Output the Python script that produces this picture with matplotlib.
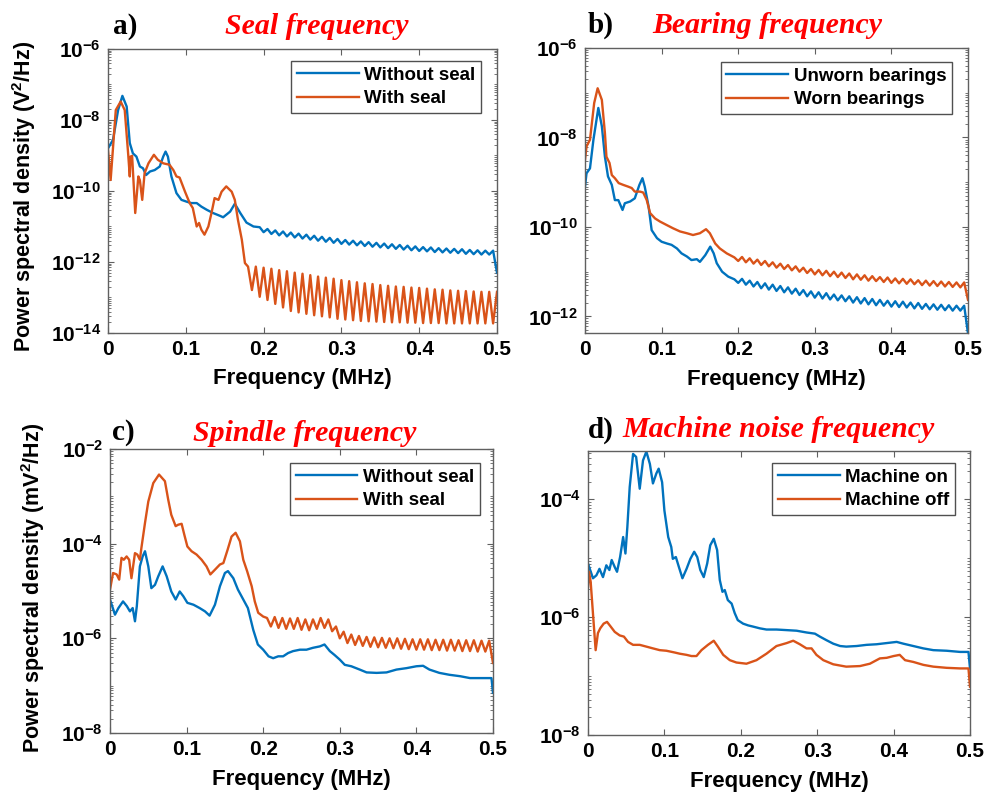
import numpy as np
import matplotlib
matplotlib.use('Agg')
import matplotlib.pyplot as plt
from matplotlib.ticker import FixedLocator, LogLocator, NullFormatter, FuncFormatter

plt.rcParams['font.family'] = 'Liberation Sans'
plt.rcParams['font.weight'] = 'bold'
plt.rcParams['mathtext.fontset'] = 'custom'
plt.rcParams['mathtext.rm'] = 'Liberation Sans:bold'
plt.rcParams['mathtext.it'] = 'Liberation Sans:bold'
plt.rcParams['mathtext.bf'] = 'Liberation Sans:bold'
plt.rcParams['mathtext.default'] = 'rm'

BLUE = '#0072BD'
ORANGE = '#D95319'

# x in MHz, PSD values stored as log10
xticks = [0, 0.1, 0.2, 0.3, 0.4, 0.5]
xtick_labels = ['0', '0.1', '0.2', '0.3', '0.4', '0.5']

# ---- a) seal frequency ----
a_blue_x = [0, 0.0064, 0.013, 0.0185, 0.024, 0.028, 0.032, 0.0365, 0.041, 0.045, 0.049,
            0.054, 0.060, 0.0665, 0.071, 0.074, 0.077, 0.0815, 0.088, 0.0944, 0.101, 0.107,
            0.114, 0.120, 0.127, 0.135, 0.144, 0.148, 0.157, 0.163, 0.170, 0.178, 0.187]
a_blue_y = [-8.80, -8.56, -7.72, -7.32, -7.62, -8.65, -8.94, -9.03, -9.31, -9.36, -9.55,
            -9.45, -9.41, -9.31, -9.03, -8.89, -9.03, -9.59, -10.06, -10.25, -10.30, -10.34,
            -10.34, -10.44, -10.53, -10.62, -10.70, -10.74, -10.58, -10.36, -10.62, -10.89, -11.0]
a_blue_peaks = [-11.02, -11.07, -11.11, -11.14, -11.17, -11.20, -11.23, -11.26, -11.29, -11.32,
                -11.35, -11.38, -11.40, -11.42, -11.44, -11.46, -11.48, -11.50, -11.52, -11.54,
                -11.56, -11.58, -11.59, -11.61, -11.62, -11.63, -11.64, -11.66, -11.67, -11.68,
                -11.68]
a_blue_troughs = [-11.16, -11.21, -11.25, -11.28, -11.31, -11.34, -11.37, -11.40, -11.43, -11.46,
                  -11.49, -11.51, -11.53, -11.55, -11.57, -11.59, -11.61, -11.63, -11.65, -11.67,
                  -11.69, -11.70, -11.72, -11.73, -11.74, -11.75, -11.77, -11.78, -11.79, -11.79]
a_blue_end = -12.3

a_orange_x = [0, 0.0034, 0.01, 0.0163, 0.0215, 0.026, 0.028, 0.029, 0.031, 0.035, 0.039, 0.041,
              0.044, 0.047, 0.052, 0.059, 0.064, 0.071, 0.079, 0.084, 0.088, 0.092, 0.099, 0.105,
              0.109, 0.114, 0.117, 0.120, 0.124, 0.129, 0.133, 0.137, 0.142, 0.146, 0.152, 0.159,
              0.163, 0.167, 0.172, 0.176, 0.180]
a_orange_y = [-8.84, -9.69, -7.72, -7.48, -7.72, -8.98, -9.59, -9.03, -9.01, -10.62, -9.59, -9.70,
              -10.25, -9.50, -9.22, -8.98, -9.12, -9.22, -9.26, -9.41, -9.59, -9.62, -10.02, -10.34,
              -10.48, -11.0, -10.9, -11.09, -11.23, -11.0, -10.62, -10.20, -10.25, -10.02, -9.87, -10.02,
              -10.25, -10.81, -11.37, -12.03, -12.13]
a_orange_troughs = [-12.79, -12.98, -13.07, -13.18, -13.28, -13.38, -13.42, -13.46, -13.50, -13.53,
                    -13.56, -13.60, -13.62, -13.64, -13.66, -13.67, -13.68, -13.69, -13.70, -13.70,
                    -13.71, -13.71, -13.72, -13.72, -13.72, -13.73, -13.73, -13.73, -13.73, -13.73,
                    -13.73, -13.73]
a_orange_peaks = [-12.13, -12.16, -12.19, -12.23, -12.26, -12.30, -12.33, -12.37, -12.41, -12.44,
                  -12.47, -12.51, -12.54, -12.57, -12.60, -12.62, -12.65, -12.67, -12.69, -12.70,
                  -12.72, -12.73, -12.75, -12.77, -12.78, -12.80, -12.81, -12.82, -12.83, -12.84,
                  -12.84]
a_orange_end = -12.84

# ---- b) bearing frequency ----
b_blue_x = [0, 0.002, 0.0065, 0.011, 0.0174, 0.022, 0.026, 0.030, 0.035, 0.039, 0.0435, 0.049,
            0.052, 0.059, 0.065, 0.071, 0.075, 0.078, 0.083, 0.087, 0.094, 0.100, 0.107, 0.113,
            0.120, 0.126, 0.133, 0.139, 0.146, 0.150, 0.157, 0.1635, 0.168, 0.172, 0.179, 0.187, 0.195]
b_blue_y = [-9.10, -8.80, -8.69, -8.05, -7.34, -7.75, -8.43, -8.87, -9.06, -9.40, -9.40, -9.62,
            -9.47, -9.43, -9.36, -9.06, -8.91, -9.10, -9.54, -10.07, -10.25, -10.33, -10.37, -10.40,
            -10.48, -10.59, -10.66, -10.74, -10.72, -10.78, -10.63, -10.44, -10.59, -10.81, -11.0, -11.11, -11.17]
b_blue_troughs = [-11.25, -11.29, -11.33, -11.37, -11.40, -11.43, -11.46, -11.49, -11.52, -11.55,
                  -11.58, -11.60, -11.62, -11.64, -11.66, -11.69, -11.71, -11.73, -11.75, -11.76,
                  -11.78, -11.79, -11.80, -11.82, -11.83, -11.84, -11.85, -11.86, -11.87, -11.87]
b_blue_peaks = [-11.16, -11.20, -11.23, -11.26, -11.29, -11.32, -11.35, -11.38, -11.41, -11.44,
                -11.46, -11.48, -11.51, -11.53, -11.55, -11.57, -11.59, -11.61, -11.63, -11.65,
                -11.66, -11.67, -11.69, -11.70, -11.72, -11.73, -11.74, -11.75, -11.76, -11.76]
b_blue_end = -12.38

b_orange_x = [0, 0.002, 0.0065, 0.012, 0.0165, 0.022, 0.026, 0.028, 0.032, 0.035, 0.039, 0.044,
              0.050, 0.0566, 0.061, 0.065, 0.0719, 0.076, 0.0806, 0.085, 0.0915, 0.098, 0.107,
              0.115, 0.124, 0.133, 0.141, 0.150, 0.158, 0.163, 0.170, 0.176, 0.185, 0.195]
b_orange_y = [-8.5, -8.20, -8.05, -7.23, -6.90, -7.16, -7.90, -8.43, -8.57, -8.84, -8.91, -9.02,
              -9.06, -9.10, -9.13, -9.21, -9.21, -9.23, -9.40, -9.69, -9.81, -9.88, -9.96,
              -10.03, -10.10, -10.14, -10.18, -10.14, -10.05, -10.14, -10.37, -10.48, -10.59, -10.68]
b_orange_troughs = [-10.76, -10.79, -10.82, -10.85, -10.88, -10.91, -10.94, -10.97, -11.00, -11.03,
                    -11.06, -11.08, -11.10, -11.12, -11.14, -11.17, -11.18, -11.20, -11.21, -11.23,
                    -11.25, -11.26, -11.27, -11.28, -11.30, -11.31, -11.32, -11.33, -11.34, -11.35]
b_orange_peaks = [-10.67, -10.70, -10.73, -10.76, -10.79, -10.82, -10.85, -10.88, -10.91, -10.94,
                  -10.96, -10.98, -11.00, -11.02, -11.04, -11.06, -11.08, -11.10, -11.12, -11.13,
                  -11.15, -11.16, -11.17, -11.19, -11.20, -11.21, -11.22, -11.23, -11.24, -11.24]
b_orange_end = -11.63

# ---- c) spindle frequency ----
c_blue_x = [0, 0.0065, 0.011, 0.017, 0.022, 0.026, 0.0296, 0.0326, 0.035, 0.039, 0.0426, 0.0457,
            0.05, 0.054, 0.0587, 0.063, 0.0687, 0.074, 0.080, 0.0857, 0.091, 0.0957, 0.101, 0.109,
            0.117, 0.124, 0.130, 0.137, 0.1435, 0.150, 0.154, 0.161, 0.167, 0.174, 0.180, 0.187,
            0.193, 0.2, 0.207, 0.213, 0.2196, 0.226, 0.2326, 0.239, 0.248, 0.2565, 0.265, 0.274,
            0.280, 0.287, 0.293, 0.300, 0.3065, 0.315, 0.326, 0.335, 0.348, 0.361, 0.374, 0.387,
            0.400, 0.4087, 0.417, 0.430, 0.443, 0.457, 0.470, 0.498, 0.5]
c_blue_y = [-5.18, -5.50, -5.36, -5.22, -5.32, -5.43, -5.36, -5.64, -5.32, -4.48, -4.27, -4.16,
            -4.48, -4.94, -4.87, -4.69, -4.48, -4.69, -5.01, -5.18, -5.01, -5.11, -5.25, -5.29,
            -5.36, -5.43, -5.52, -5.29, -4.90, -4.62, -4.58, -4.73, -4.97, -5.18, -5.36, -5.82,
            -6.13, -6.24, -6.38, -6.42, -6.38, -6.38, -6.31, -6.27, -6.24, -6.24, -6.20, -6.17,
            -6.13, -6.27, -6.35, -6.45, -6.56, -6.59, -6.66, -6.72, -6.73, -6.72, -6.66, -6.63,
            -6.59, -6.58, -6.66, -6.73, -6.77, -6.80, -6.84, -6.84, -7.15]

c_orange_x = [0, 0.004, 0.0087, 0.012, 0.015, 0.018, 0.0217, 0.025, 0.028, 0.0326, 0.0357, 0.039,
              0.041, 0.0457, 0.050, 0.0565, 0.064, 0.0717, 0.076, 0.080, 0.0857, 0.089, 0.0935,
              0.097, 0.101, 0.1065, 0.113, 0.1196, 0.126, 0.131, 0.137, 0.1435, 0.148, 0.1535,
              0.1587, 0.164, 0.1696, 0.174, 0.179, 0.185, 0.189, 0.1935, 0.2, 0.205]
c_orange_y = [-4.97, -4.62, -4.65, -4.76, -4.30, -4.34, -4.27, -4.34, -4.73, -4.20, -4.23, -4.34,
              -4.09, -3.56, -3.11, -2.72, -2.54, -2.68, -3.07, -3.39, -3.63, -3.60, -3.58,
              -3.81, -4.06, -4.16, -4.23, -4.34, -4.48, -4.65, -4.55, -4.44, -4.41, -4.13,
              -3.85, -3.77, -3.95, -4.34, -4.58, -4.90, -5.22, -5.46, -5.54, -5.57]
c_orange_troughs = [-5.75, -5.78, -5.80, -5.80, -5.82, -5.83, -5.80, -5.78, -5.85, -6.00,
                    -6.10, -6.14, -6.16, -6.18, -6.19, -6.20, -6.21, -6.22, -6.23, -6.24,
                    -6.24, -6.25, -6.25, -6.26, -6.26, -6.27, -6.27, -6.28, -6.28]
c_orange_peaks = [-5.55, -5.57, -5.58, -5.57, -5.60, -5.60, -5.57, -5.60, -5.75, -5.86,
                  -5.92, -5.95, -5.97, -5.98, -5.99, -6.00, -6.00, -6.01, -6.02, -6.02,
                  -6.02, -6.03, -6.03, -6.03, -6.04, -6.04, -6.04, -6.05, -6.05]
c_orange_end = -6.52

# ---- d) machine noise frequency ----
d_blue_x = [0, 0.0065, 0.011, 0.015, 0.0196, 0.024, 0.028, 0.031, 0.035, 0.038, 0.042, 0.046,
            0.049, 0.0515, 0.0546, 0.059, 0.063, 0.0677, 0.072, 0.0764, 0.081, 0.085, 0.0895,
            0.0925, 0.097, 0.100, 0.105, 0.109, 0.111, 0.115, 0.119, 0.1236, 0.129, 0.134, 0.139,
            0.143, 0.147, 0.1515, 0.156, 0.160, 0.1646, 0.169, 0.1725, 0.176, 0.179, 0.183, 0.188,
            0.192, 0.196, 0.203, 0.2096, 0.216, 0.225, 0.2336, 0.2467, 0.260, 0.273, 0.286, 0.297,
            0.3035, 0.312, 0.321, 0.330, 0.338, 0.3515, 0.3646, 0.3777, 0.3908, 0.404, 0.4127,
            0.4258, 0.4389, 0.452, 0.4694, 0.487, 0.498, 0.5]
d_blue_y = [-5.09, -5.34, -5.29, -5.18, -5.32, -5.12, -5.20, -5.03, -5.15, -5.23, -4.98, -4.64,
            -4.92, -4.47, -3.79, -3.23, -3.28, -3.82, -3.34, -3.19, -3.40, -3.73, -3.56,
            -3.48, -3.71, -4.19, -4.64, -4.81, -5.01, -4.98, -5.15, -5.34, -5.18, -5.01, -4.89,
            -4.98, -5.20, -5.32, -5.09, -4.78, -4.67, -4.86, -5.37, -5.57, -5.54, -5.71, -5.77,
            -5.93, -6.05, -6.11, -6.14, -6.16, -6.19, -6.21, -6.21, -6.22, -6.23, -6.26, -6.28,
            -6.33, -6.39, -6.45, -6.49, -6.50, -6.49, -6.47, -6.46, -6.44, -6.42, -6.45,
            -6.49, -6.53, -6.56, -6.57, -6.59, -6.59, -6.87]

d_orange_x = [0, 0.0013, 0.0035, 0.0065, 0.010, 0.013, 0.016, 0.0205, 0.0249, 0.0297, 0.035,
              0.0415, 0.047, 0.0524, 0.059, 0.0677, 0.0764, 0.085, 0.0939, 0.1026, 0.1135, 0.120,
              0.129, 0.1354, 0.142, 0.1485, 0.157, 0.1646, 0.170, 0.177, 0.1856, 0.1943, 0.2074,
              0.2205, 0.2336, 0.2467, 0.260, 0.2686, 0.2773, 0.286, 0.2926, 0.299, 0.308, 0.321,
              0.338, 0.356, 0.369, 0.382, 0.391, 0.400, 0.408, 0.415, 0.4258, 0.439, 0.452,
              0.4694, 0.487, 0.498, 0.5]
d_orange_y = [-5.49, -5.23, -5.40, -5.94, -6.56, -6.27, -6.19, -6.11, -6.08, -6.16, -6.25,
              -6.31, -6.33, -6.42, -6.47, -6.47, -6.50, -6.53, -6.56, -6.57, -6.60, -6.62,
              -6.64, -6.66, -6.66, -6.56, -6.47, -6.40, -6.50, -6.64, -6.73, -6.77, -6.79,
              -6.73, -6.62, -6.49, -6.44, -6.40, -6.46, -6.53, -6.53, -6.64, -6.73, -6.80,
              -6.84, -6.83, -6.79, -6.70, -6.69, -6.66, -6.64, -6.73, -6.76, -6.81, -6.84,
              -6.86, -6.87, -6.87, -7.18]


def build(hx, hy, x0=None, first=None, second=None, end=None):
    """head points + ripple section (extremes ~0.01 MHz apart) + last point at 0.5"""
    x = list(hx)
    y = list(hy)
    if first is not None:
        xa = x0 + 0.01 * np.arange(len(first))
        xb = x0 + 0.005 + 0.01 * np.arange(len(second))
        rx = np.concatenate([xa, xb])
        ry = np.concatenate([first, second])
        o = np.argsort(rx)
        x += list(rx[o])
        y += list(ry[o])
    if end is not None:
        x.append(0.5)
        y.append(end)
    return np.array(x), 10.0 ** np.array(y)


def logfmt(v, pos):
    return r'$10^{%d}$' % int(round(np.log10(v)))


fig = plt.figure(figsize=(9.94, 7.94), dpi=100)
W, H = 994.0, 794.0


def panel(box, curves, labels, ylim, yticks, ylabel, leg_xy, ylab_xy):
    l, t, r, b = box
    ax = fig.add_axes([l / W, 1 - b / H, (r - l) / W, (b - t) / H])
    for (x, y), c, lab in zip(curves, [BLUE, ORANGE], labels):
        ax.plot(x, y, color=c, lw=1.7, label=lab)
    ax.set_yscale('log')
    ax.set_xlim(0, 0.5)
    ax.set_ylim(*ylim)
    ax.set_xticks(xticks)
    ax.set_xticklabels(xtick_labels)
    ax.yaxis.set_major_locator(FixedLocator(yticks))
    ax.yaxis.set_major_formatter(FuncFormatter(logfmt))
    ax.yaxis.set_minor_locator(LogLocator(base=10, subs=np.arange(1, 10), numticks=60))
    ax.yaxis.set_minor_formatter(NullFormatter())
    ax.tick_params(which='both', direction='in', top=True, right=True,
                   color='#606060', labelsize=15, pad=5)
    ax.tick_params(which='major', length=4.5, width=0.8)
    ax.tick_params(which='minor', length=2.5, width=0.6)
    for s in ax.spines.values():
        s.set_color('#606060')
        s.set_linewidth(1.0)
    ax.set_xlabel('Frequency (MHz)', fontsize=16, fontweight='bold')
    ax.xaxis.set_label_coords(0.5, -0.125)
    if ylabel:
        ax.set_ylabel(ylabel, fontsize=15.5, fontweight='bold')
        ax.yaxis.set_label_coords(*ylab_xy)
    leg = ax.legend(loc='upper right', bbox_to_anchor=leg_xy, borderaxespad=0,
                    fancybox=False, framealpha=1, edgecolor='#505050',
                    prop={'family': 'Liberation Sans', 'weight': 'bold', 'size': 13.5},
                    handlelength=3.3, handletextpad=0.3, borderpad=0.3, labelspacing=0.35)
    leg.get_frame().set_linewidth(1.0)
    return ax


panel((108, 49, 497, 333),
      [build(a_blue_x, a_blue_y, 0.195, a_blue_peaks, a_blue_troughs, a_blue_end),
       build(a_orange_x, a_orange_y, 0.185, a_orange_troughs, a_orange_peaks, a_orange_end)],
      ['Without seal', 'With seal'], (1e-14, 1e-6), [1e-14, 1e-12, 1e-10, 1e-8, 1e-6],
      r'Power spectral density (V$^{2}$/Hz)', (0.959, 0.958), (-0.18, 0.48))

panel((585, 48, 968, 333),
      [build(b_blue_x, b_blue_y, 0.2, b_blue_troughs, b_blue_peaks, b_blue_end),
       build(b_orange_x, b_orange_y, 0.2, b_orange_troughs, b_orange_peaks, b_orange_end)],
      ['Unworn bearings', 'Worn bearings'], (10 ** -12.37, 1e-6), [1e-12, 1e-10, 1e-8, 1e-6],
      None, (0.958, 0.951), None)

panel((110, 449, 493, 733),
      [build(c_blue_x, c_blue_y),
       build(c_orange_x, c_orange_y, 0.21, c_orange_troughs, c_orange_peaks, c_orange_end)],
      ['Without seal', 'With seal'], (1e-8, 1e-2), [1e-8, 1e-6, 1e-4, 1e-2],
      r'Power spectral density (mV$^{2}$/Hz)', (0.966, 0.951), (-0.165, 0.51))

panel((588, 451, 970, 735),
      [build(d_blue_x, d_blue_y), build(d_orange_x, d_orange_y)],
      ['Machine on', 'Machine off'], (1e-8, 10 ** -3.18), [1e-8, 1e-6, 1e-4],
      None, (0.961, 0.958), None)

# panel letters and red titles
letters = ['a)', 'b)', 'c)', 'd)']
titles = ['Seal frequency', 'Bearing frequency', 'Spindle frequency', 'Machine noise frequency']
letter_xy = [(113, 34), (588, 33), (112, 440), (588, 438)]
title_xy = [(225, 34), (652, 33), (193, 441), (622, 437)]
for lt, tt, (lx, ly), (tx, ty) in zip(letters, titles, letter_xy, title_xy):
    fig.text(lx / W, 1 - ly / H, lt, family='Liberation Serif', weight='bold',
             fontsize=21, va='baseline', ha='left', color='black')
    fig.text(tx / W, 1 - ty / H, tt, family='Liberation Serif', weight='bold',
             style='italic', fontsize=21.5, va='baseline', ha='left', color='#FF0000')

fig.savefig('out.png', dpi=100, facecolor='white')
